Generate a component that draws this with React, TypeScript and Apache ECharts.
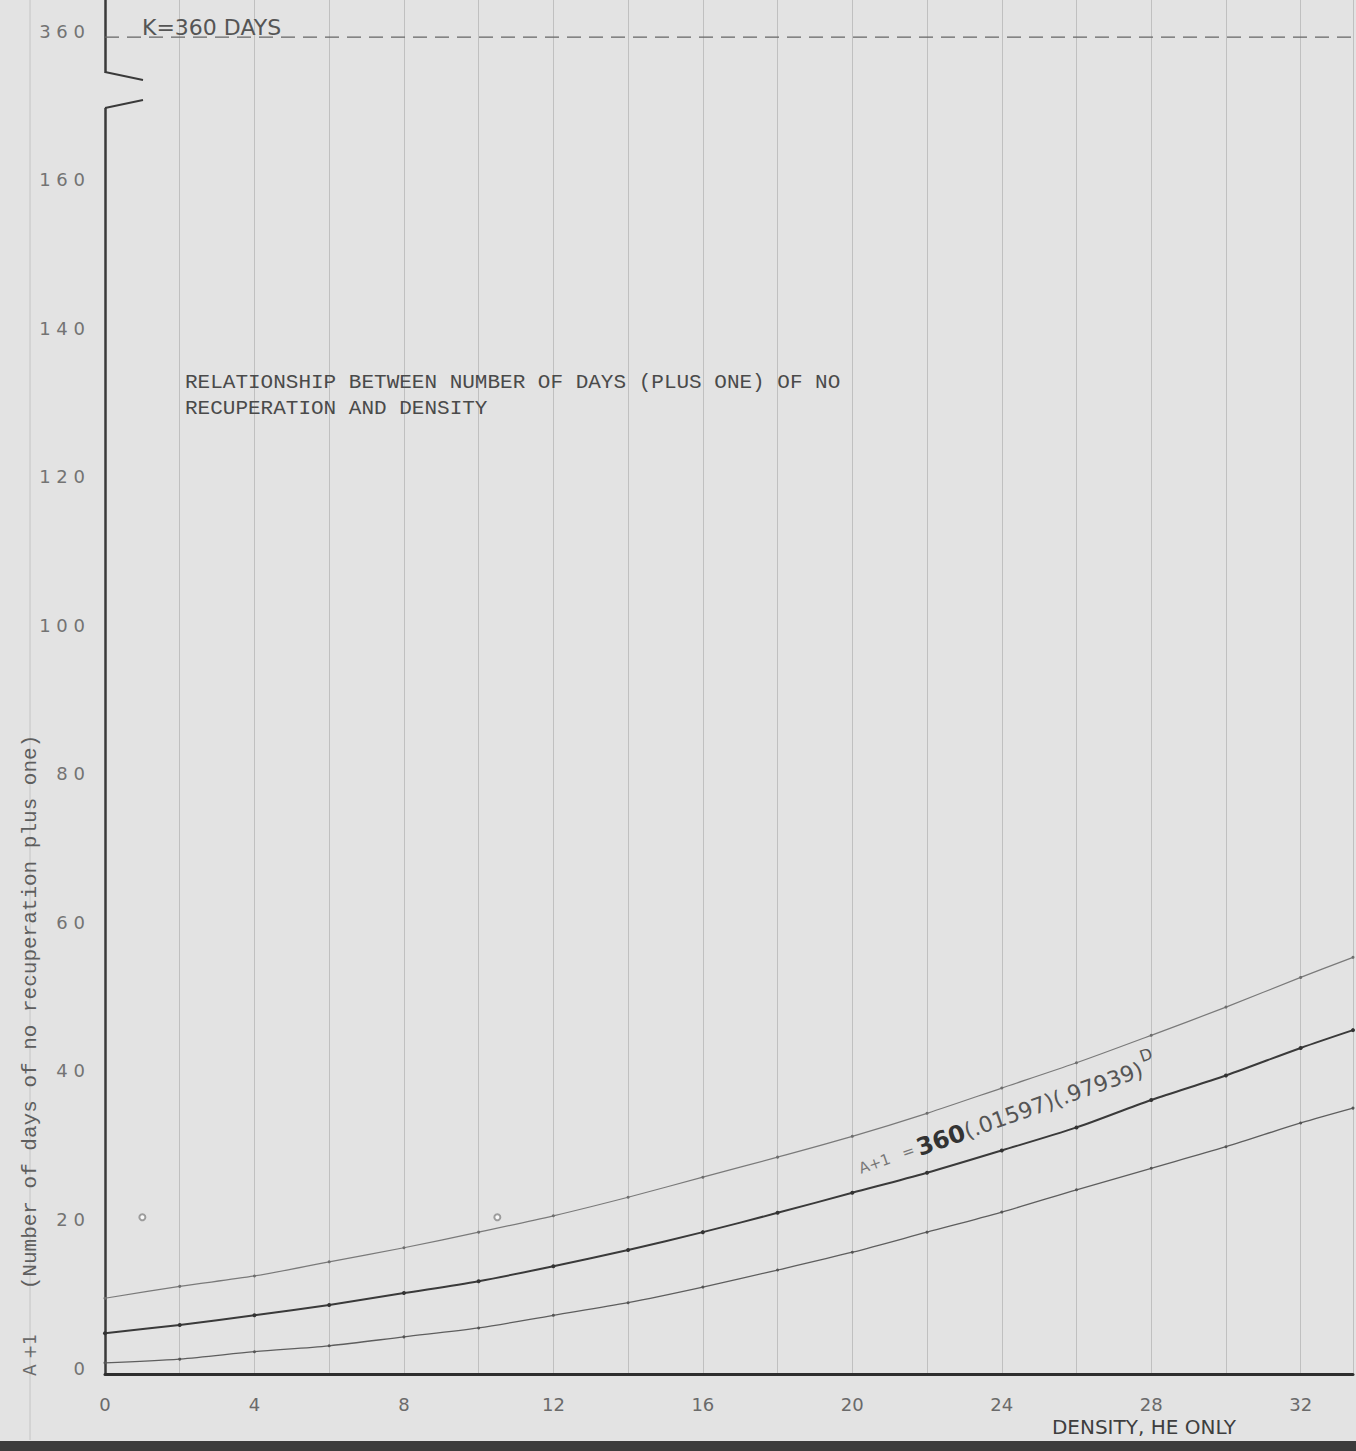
import React, { useEffect, useRef } from "react";
import * as echarts from "echarts";

// Density values (x)
const density = [0, 2, 4, 6, 8, 10, 12, 14, 16, 18, 20, 22, 24, 26, 28, 30, 32, 33.4];
// Upper, fitted (middle) and lower curves: A+1
const upperCurve = [10.2, 11.8, 13.2, 15.1, 17.0, 19.1, 21.3, 23.8, 26.5, 29.2, 32.0, 35.1, 38.5, 41.9, 45.6, 49.4, 53.4, 56.1];
const fittedCurve = [5.5, 6.6, 7.9, 9.3, 10.9, 12.5, 14.5, 16.7, 19.1, 21.7, 24.4, 27.1, 30.1, 33.2, 36.9, 40.2, 43.9, 46.3];
const lowerCurve = [1.5, 2.0, 3.0, 3.8, 5.0, 6.2, 7.9, 9.6, 11.7, 14.0, 16.4, 19.1, 21.8, 24.8, 27.7, 30.6, 33.8, 35.8];
// Isolated plotted marks
const marksX = [1, 10.5];
const marksY = [21.1, 21.1];
// Broken axis: position 180 on the axis stands for K = 360
const kAxisPos = 180;
const kLabel = "360";
const yTickLabels = ["0", "20", "40", "60", "80", "100", "120", "140", "160"];
const xTickLabels = ["0", "4", "8", "12", "16", "20", "24", "28", "32"];

const BG = "#e3e3e3";

export default function App() {
  const ref = useRef<HTMLDivElement>(null);
  useEffect(() => {
    document.body.style.margin = "0";
    document.body.style.background = BG;
    document.body.style.overflow = "hidden";
    const chart = echarts.init(ref.current!, null, { renderer: "svg" });
    const pairs = (ys: number[]) => density.map((d, i) => [d, ys[i]]);
    const dotted = { symbol: "circle", symbolSize: 3, showSymbol: true };
    chart.setOption({
      animation: false,
      backgroundColor: BG,
      grid: { left: 105, right: 0, top: 0, bottom: 77, containLabel: false },
      xAxis: {
        type: "value",
        min: 0,
        max: 33.4,
        interval: 2,
        axisLine: { show: true, onZero: false, lineStyle: { color: "#2e2e2e", width: 3 } },
        axisTick: { show: false },
        splitLine: { show: true, lineStyle: { color: "#c0c0c0", width: 1 } },
        axisLabel: {
          margin: 21,
          color: "#6a6a6a",
          fontSize: 18,
          fontFamily: "DejaVu Sans",
          formatter: (v: number) => {
            const s = String(Math.round(v));
            return v % 4 === 0 && xTickLabels.includes(s) ? s : "";
          },
        },
      },
      yAxis: {
        type: "value",
        min: 0,
        max: 185,
        interval: 20,
        axisLine: { show: true, lineStyle: { color: "#3a3a3a", width: 2.5 } },
        axisTick: { show: false },
        splitLine: { show: false },
        axisLabel: {
          margin: 20,
          color: "#737373",
          fontSize: 18,
          lineHeight: 12,
          verticalAlign: "bottom",
          fontFamily: "DejaVu Sans",
          formatter: (v: number) => {
            if (v === kAxisPos) return kLabel.split("").join(" ");
            const s = String(v);
            return yTickLabels.includes(s) ? s.split("").join(" ") : "";
          },
        },
      },
      series: [
        {
          type: "line",
          name: "K",
          data: [[0, kAxisPos], [33.4, kAxisPos]],
          showSymbol: false,
          lineStyle: { color: "#666", width: 1.2, type: [14, 8] },
        },
        {
          type: "line",
          name: "upper",
          data: pairs(upperCurve),
          smooth: 0.3,
          ...dotted,
          itemStyle: { color: "#6e6e6e" },
          lineStyle: { color: "#7a7a7a", width: 1.2 },
        },
        {
          type: "line",
          name: "fitted",
          data: pairs(fittedCurve),
          smooth: 0.3,
          ...dotted,
          symbolSize: 4,
          itemStyle: { color: "#333" },
          lineStyle: { color: "#3a3a3a", width: 2 },
        },
        {
          type: "line",
          name: "lower",
          data: pairs(lowerCurve),
          smooth: 0.3,
          ...dotted,
          itemStyle: { color: "#555" },
          lineStyle: { color: "#5e5e5e", width: 1.3 },
        },
        {
          type: "scatter",
          name: "marks",
          data: marksX.map((x, i) => [x, marksY[i]]),
          symbol: "emptyCircle",
          symbolSize: 6,
          itemStyle: { color: "#888", borderColor: "#888", borderWidth: 1 },
        },
      ],
      graphic: [
        // left graph-paper line
        { type: "line", z: 1, shape: { x1: 30, y1: 0, x2: 30, y2: 1440 }, style: { stroke: "#c4c4c4", lineWidth: 1 } },
        // axis break
        { type: "rect", z: 100, shape: { x: 100, y: 73, width: 12, height: 35 }, style: { fill: BG } },
        { type: "polyline", z: 101, shape: { points: [[105, 72], [143, 80]] }, style: { stroke: "#3a3a3a", lineWidth: 2, fill: null } },
        { type: "polyline", z: 101, shape: { points: [[143, 100], [105, 108]] }, style: { stroke: "#3a3a3a", lineWidth: 2, fill: null } },
        // K label
        {
          type: "text", z: 101, x: 142, y: 38,
          style: { text: "K=360 DAYS", fontSize: 22, fontFamily: "DejaVu Sans", fill: "#555", textVerticalAlign: "bottom" },
        },
        // title
        {
          type: "text", z: 101, x: 185, y: 395,
          style: {
            text: "RELATIONSHIP BETWEEN NUMBER OF DAYS (PLUS ONE) OF NO\nRECUPERATION AND DENSITY",
            fontSize: 21, lineHeight: 26, fontFamily: "Liberation Mono", fill: "#4a4a4a", textVerticalAlign: "middle",
          },
        },
        // y axis names
        {
          type: "text", z: 101, x: 30, y: 1355, rotation: Math.PI / 2,
          style: { text: "A +1", fontSize: 17, fontFamily: "DejaVu Sans", fill: "#6a6a6a", textAlign: "center", textVerticalAlign: "middle" },
        },
        {
          type: "text", z: 101, x: 30, y: 1012, rotation: Math.PI / 2,
          style: {
            text: "(Number of days of no recuperation plus one)",
            fontSize: 21, fontFamily: "Liberation Mono", fill: "#5e5e5e", textAlign: "center", textVerticalAlign: "middle",
          },
        },
        // x axis name
        {
          type: "text", z: 101, x: 1144, y: 1427,
          style: { text: "DENSITY, HE ONLY", fontSize: 20, fontFamily: "DejaVu Sans", fill: "#3e3e3e", textAlign: "center", textVerticalAlign: "middle" },
        },
        // formula
        {
          type: "text", z: 101, x: 866, y: 1188, rotation: (19.5 * Math.PI) / 180,
          style: {
            text: "{a|A+1}    {b|=} {c|360}{d|(.01597)(.97939)}{e|D}",
            textVerticalAlign: "bottom",
            rich: {
              a: { fontSize: 15, fill: "#777", fontFamily: "DejaVu Sans" },
              b: { fontSize: 15, fill: "#777", fontFamily: "DejaVu Sans" },
              c: { fontSize: 24, fill: "#333", fontWeight: "bold", fontFamily: "DejaVu Sans" },
              d: { fontSize: 22, fill: "#555", fontFamily: "DejaVu Sans" },
              e: { fontSize: 16, fill: "#555", fontFamily: "DejaVu Sans", padding: [0, 0, 24, 2] },
            },
          },
        },
        // scan edge
        { type: "rect", z: 102, shape: { x: 0, y: 1441, width: 1356, height: 10 }, style: { fill: "#3c3c3c" } },
      ],
    });
    return () => chart.dispose();
  }, []);
  return <div ref={ref} style={{ width: 1356, height: 1451 }} />;
}
